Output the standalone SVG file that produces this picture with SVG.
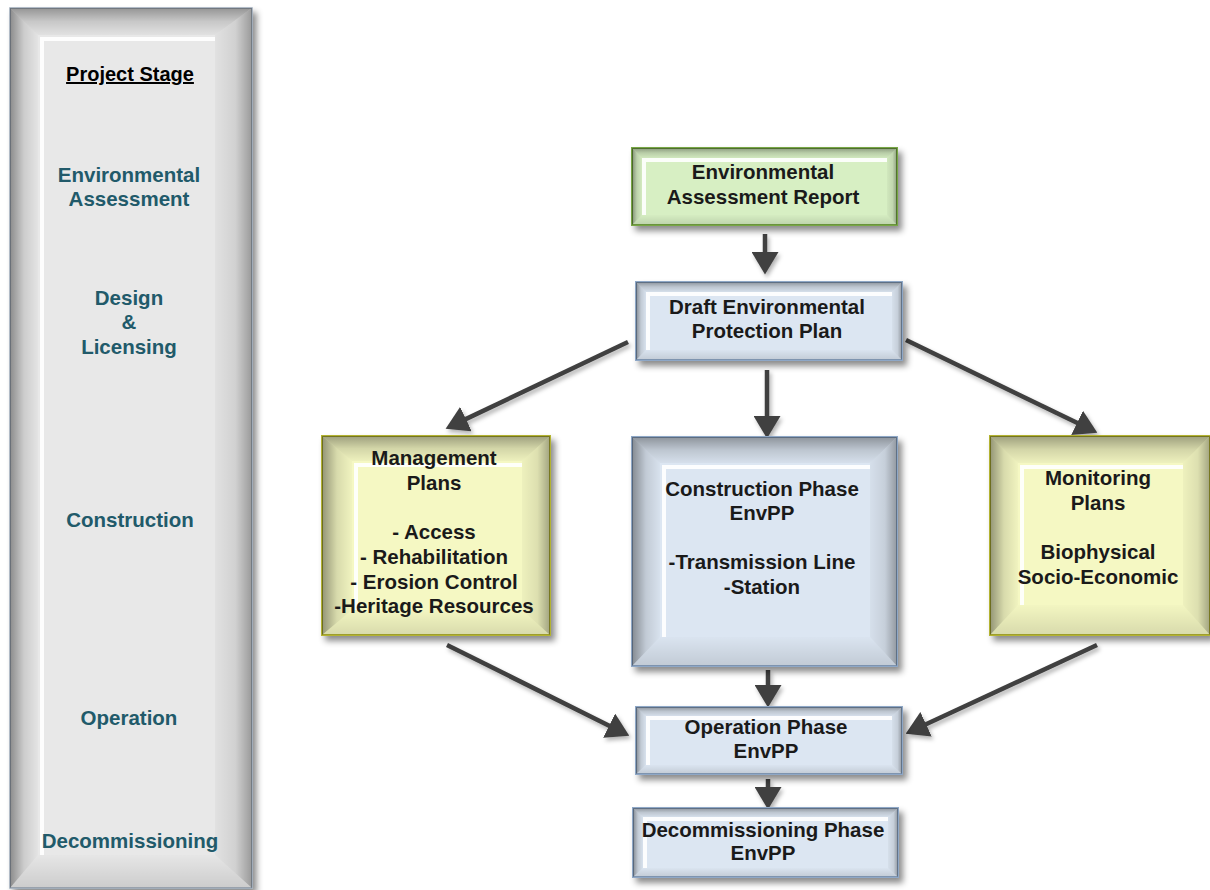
<svg xmlns="http://www.w3.org/2000/svg" width="1210" height="890" viewBox="0 0 1210 890">
<style>
.t{font-family:"Liberation Sans",Arial,sans-serif;font-weight:bold;font-size:20.5px;fill:#1a1a1a;text-anchor:middle}
.s{font-family:"Liberation Sans",Arial,sans-serif;font-weight:bold;font-size:20.5px;fill:#215a6a;text-anchor:middle}
.h{font-family:"Liberation Sans",Arial,sans-serif;font-weight:bold;font-size:20px;fill:#000;text-anchor:middle;text-decoration:underline}
.bt{fill:url(#gT)}.bl{fill:url(#gL)}.br{fill:url(#gR)}.bb{fill:url(#gB)}
.hl{fill:none;stroke:#fff;stroke-width:4;stroke-opacity:0.9}
.gray{fill:#e8e8e8;stroke:#9aa8b8;stroke-width:1.5}
.green{fill:#d7efc3;stroke:#77a645;stroke-width:2}
.blue{fill:#dce6f2;stroke:#8ea7c6;stroke-width:2}
.yellow{fill:#f5f8c3;stroke:#b3b330;stroke-width:2}
.c{stroke:#404040;stroke-width:4.5;fill:none;marker-end:url(#ah)}
</style>
<defs>
<linearGradient id="gT" x1="0" y1="0" x2="0" y2="1"><stop offset="0" stop-color="#000" stop-opacity="0.36"/><stop offset="0.5" stop-color="#000" stop-opacity="0.14"/><stop offset="1" stop-color="#000" stop-opacity="0.03"/></linearGradient>
<linearGradient id="gL" x1="0" y1="0" x2="1" y2="0"><stop offset="0" stop-color="#000" stop-opacity="0.4"/><stop offset="0.5" stop-color="#000" stop-opacity="0.12"/><stop offset="1" stop-color="#000" stop-opacity="0.02"/></linearGradient>
<linearGradient id="gR" x1="0" y1="0" x2="1" y2="0"><stop offset="0" stop-color="#000" stop-opacity="0.03"/><stop offset="0.55" stop-color="#000" stop-opacity="0.1"/><stop offset="1" stop-color="#000" stop-opacity="0.34"/></linearGradient>
<linearGradient id="gB" x1="0" y1="0" x2="0" y2="1"><stop offset="0" stop-color="#000" stop-opacity="0.01"/><stop offset="1" stop-color="#000" stop-opacity="0.12"/></linearGradient>
<filter id="sh" x="-10%" y="-10%" width="130%" height="130%"><feDropShadow dx="4" dy="5" stdDeviation="3" flood-color="#000" flood-opacity="0.45"/></filter>
<filter id="ash" x="-20%" y="-20%" width="140%" height="140%"><feDropShadow dx="2" dy="3" stdDeviation="2" flood-color="#000" flood-opacity="0.3"/></filter>
<marker id="ah" viewBox="0 0 10 12" refX="4" refY="6" markerWidth="5" markerHeight="6" orient="auto"><path d="M0,0 L10,6 L0,12 z" fill="#404040"/></marker>
</defs>

<g id="stage-panel">
<g filter="url(#sh)"><rect class="gray" x="10" y="8" width="242" height="880"/></g>
<polygon class="bt" points="10,8 252,8 215,35 38,35"/>
<polygon class="bl" points="10,8 38,35 38,855 10,888"/>
<polygon class="br" points="252,8 252,888 215,855 215,35"/>
<polygon class="bb" points="10,888 38,855 215,855 252,888"/>
<polyline class="hl" points="42,855 42,39 215,39" stroke-width="8"/>
<text class="h" x="130" y="81">Project Stage</text>
<text class="s" x="129" y="182">Environmental</text>
<text class="s" x="129" y="206">Assessment</text>
<text class="s" x="129" y="305">Design</text>
<text class="s" x="129" y="329">&amp;</text>
<text class="s" x="129" y="354">Licensing</text>
<text class="s" x="130" y="527">Construction</text>
<text class="s" x="129" y="725">Operation</text>
<text class="s" x="130" y="848">Decommissioning</text>
</g>

<g id="connectors" filter="url(#ash)">
<line class="c" x1="765" y1="234" x2="765" y2="261"/>
<line class="c" x1="628" y1="342" x2="457.8" y2="422.9"/>
<line class="c" x1="767" y1="370" x2="767" y2="425"/>
<line class="c" x1="906" y1="340" x2="1085.2" y2="426.8"/>
<line class="c" x1="447" y1="645" x2="617.2" y2="729.7"/>
<line class="c" x1="768" y1="670" x2="768" y2="694"/>
<line class="c" x1="1097" y1="645" x2="917.9" y2="728"/>
<line class="c" x1="768" y1="779" x2="768" y2="796"/>
</g>

<g id="node-ear">
<g filter="url(#sh)"><rect class="green" x="632" y="148" width="265" height="77"/></g>
<polygon class="bt" points="632,148 897,148 887,158 642,158"/>
<polygon class="bl" points="632,148 642,158 642,215 632,225"/>
<polygon class="br" points="897,148 897,225 887,215 887,158"/>
<polygon class="bb" points="632,225 642,215 887,215 897,225"/>
<polyline class="hl" points="644,215 644,160 887,160" stroke-width="2.5"/>
<text class="t" x="763" y="179">Environmental</text>
<text class="t" x="763" y="204">Assessment Report</text>
</g>

<g id="node-draft">
<g filter="url(#sh)"><rect class="blue" x="636" y="282" width="266" height="78"/></g>
<polygon class="bt" points="636,282 902,282 892,292 646,292"/>
<polygon class="bl" points="636,282 646,292 646,350 636,360"/>
<polygon class="br" points="902,282 902,360 892,350 892,292"/>
<polygon class="bb" points="636,360 646,350 892,350 902,360"/>
<polyline class="hl" points="648,350 648,294 892,294" stroke-width="2.5"/>
<text class="t" x="767" y="314">Draft Environmental</text>
<text class="t" x="767" y="338">Protection Plan</text>
</g>

<g id="node-management">
<g filter="url(#sh)"><rect class="yellow" x="322" y="436" width="228" height="199"/></g>
<polygon class="bt" points="322,436 550,436 522,461 352,461"/>
<polygon class="bl" points="322,436 352,461 352,610 322,635"/>
<polygon class="br" points="550,436 550,635 522,610 522,461"/>
<polygon class="bb" points="322,635 352,610 522,610 550,635"/>
<polyline class="hl" points="356,610 356,465 522,465" stroke-width="7"/>
<text class="t" x="434" y="465">Management</text>
<text class="t" x="434" y="490">Plans</text>
<text class="t" x="434" y="539">- Access</text>
<text class="t" x="434" y="564">- Rehabilitation</text>
<text class="t" x="434" y="589">- Erosion Control</text>
<text class="t" x="434" y="613">-Heritage Resources</text>
</g>

<g id="node-construction">
<g filter="url(#sh)"><rect class="blue" x="632" y="437" width="265" height="229"/></g>
<polygon class="bt" points="632,437 897,437 870,463 660,463"/>
<polygon class="bl" points="632,437 660,463 660,637 632,666"/>
<polygon class="br" points="897,437 897,666 870,637 870,463"/>
<polygon class="bb" points="632,666 660,637 870,637 897,666"/>
<polyline class="hl" points="664,637 664,467 870,467" stroke-width="7"/>
<text class="t" x="762" y="496">Construction Phase</text>
<text class="t" x="762" y="520">EnvPP</text>
<text class="t" x="762" y="569">-Transmission Line</text>
<text class="t" x="762" y="594">-Station</text>
</g>

<g id="node-monitoring">
<g filter="url(#sh)"><rect class="yellow" x="990" y="436" width="220" height="199"/></g>
<polygon class="bt" points="990,436 1210,436 1183,463 1018,463"/>
<polygon class="bl" points="990,436 1018,463 1018,605 990,635"/>
<polygon class="br" points="1210,436 1210,635 1183,605 1183,463"/>
<polygon class="bb" points="990,635 1018,605 1183,605 1210,635"/>
<polyline class="hl" points="1022,605 1022,467 1183,467" stroke-width="7"/>
<text class="t" x="1098" y="485">Monitoring</text>
<text class="t" x="1098" y="510">Plans</text>
<text class="t" x="1098" y="559">Biophysical</text>
<text class="t" x="1098" y="584">Socio-Economic</text>
</g>

<g id="node-operation">
<g filter="url(#sh)"><rect class="blue" x="636" y="707" width="266" height="67"/></g>
<polygon class="bt" points="636,707 902,707 892,716 646,716"/>
<polygon class="bl" points="636,707 646,716 646,765 636,774"/>
<polygon class="br" points="902,707 902,774 892,765 892,716"/>
<polygon class="bb" points="636,774 646,765 892,765 902,774"/>
<polyline class="hl" points="648,765 648,718 892,718" stroke-width="2.5"/>
<text class="t" x="766" y="734">Operation Phase</text>
<text class="t" x="766" y="758">EnvPP</text>
</g>

<g id="node-decommissioning">
<g filter="url(#sh)"><rect class="blue" x="633" y="808" width="265" height="69"/></g>
<polygon class="bt" points="633,808 898,808 888,817 643,817"/>
<polygon class="bl" points="633,808 643,817 643,868 633,877"/>
<polygon class="br" points="898,808 898,877 888,868 888,817"/>
<polygon class="bb" points="633,877 643,868 888,868 898,877"/>
<polyline class="hl" points="645,868 645,819 888,819" stroke-width="2.5"/>
<text class="t" x="763" y="837">Decommissioning Phase</text>
<text class="t" x="763" y="860">EnvPP</text>
</g>
</svg>
